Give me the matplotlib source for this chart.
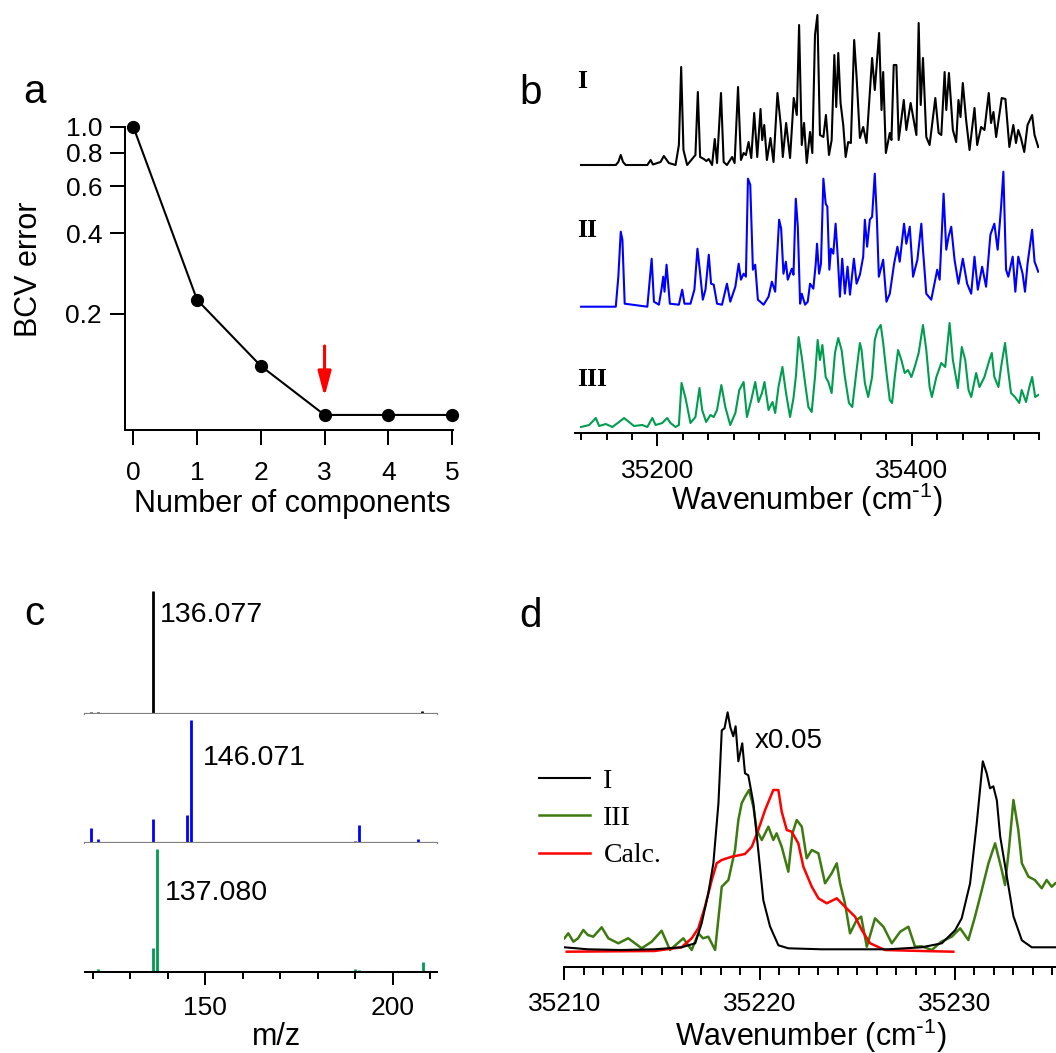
import matplotlib.pyplot as plt
import numpy as np
from matplotlib.ticker import FixedLocator, MultipleLocator, NullLocator

plt.rcParams['font.family'] = ['Liberation Sans', 'DejaVu Sans']
plt.rcParams['mathtext.default'] = 'regular'
plt.rcParams['axes.linewidth'] = 1.45

# ---- panel a : BCV error vs number of components
n_comp = [0, 1, 2, 3, 4, 5]
bcv_err = [1.0, 0.226, 0.128, 0.084, 0.084, 0.084]
chosen_n = 3

# ---- panel b : spectra I, II, III (wavenumber, intensity a.u.)
wn_I = [35140, 35167.3, 35169.3, 35171.2, 35173.0, 35175.1, 35192.1, 35194.7, 35196.5, 35202.5,
        35205.1, 35209.0, 35214.3, 35216.9, 35218.7, 35220.5, 35223.4, 35229.9, 35231.8, 35233.6,
        35236.5, 35238.5, 35240.4, 35243.0, 35245.1, 35246.9, 35250.0, 35252.1, 35254.7, 35258.7,
        35260.7, 35263.4, 35265.7, 35267.8, 35269.6, 35271.7, 35273.8, 35276.1, 35278.5, 35281.1,
        35282.4, 35284.0, 35286.1, 35288.9, 35291.3, 35294.4, 35297.0, 35298.6, 35301.2, 35304.3,
        35307.2, 35309.6, 35311.4, 35313.5, 35315.3, 35317.4, 35320.0, 35321.8, 35323.9, 35325.8,
        35327.8, 35330.5, 35332.5, 35334.9, 35337.0, 35339.1, 35340.6, 35342.2, 35344.0, 35346.1,
        35348.0, 35350.0, 35352.1, 35354.7, 35356.6, 35359.2, 35361.8, 35364.4, 35368.8, 35370.9,
        35374.3, 35376.2, 35377.5, 35379.6, 35382.7, 35384.0, 35385.8, 35387.9, 35389.7, 35393.7,
        35395.7, 35399.1, 35403.6, 35405.4, 35407.0, 35408.8, 35411.4, 35414.0, 35418.5, 35421.1,
        35423.2, 35425.8, 35427.1, 35429.2, 35432.3, 35434.9, 35436.7, 35438.3, 35440.1, 35442.7,
        35445.4, 35449.3, 35451.4, 35454.5, 35457.1, 35460.5, 35462.3, 35464.2, 35466.3, 35470.7,
        35473.6, 35476.7, 35479.8, 35481.9, 35483.7, 35485.8, 35488.4, 35491.0, 35494.6, 35496.5, 35499.4]
int_I = [0, 0, 3, 10, 3, 0, 0, 5, 0.5, 3,
         9, 2, 0, 20, 98, 15, 0, 10, 73, 8,
         6, 4, 6, 0, 26, 2, 72, 3, 0, 8,
         2, 78, 5, 12, 10, 23, 7, 52, 8, 56,
         25, 40, 5, 27, 3, 72, 40, 8, 42, 7,
         67, 50, 140, 20, 42, 2, 33, 12, 130, 150,
         30, 28, 50, 10, 25, 110, 58, 112, 62, 40,
         8, 23, 22, 125, 88, 27, 38, 22, 107, 75,
         132, 55, 93, 12, 32, 25, 100, 100, 25, 65,
         35, 62, 30, 142, 60, 107, 28, 20, 67, 32,
         30, 93, 55, 92, 35, 23, 65, 48, 82, 45,
         15, 57, 20, 38, 35, 72, 42, 53, 28, 67,
         66, 18, 40, 22, 35, 27, 13, 40, 50, 30, 18]

wn_II = [35140, 35167.3, 35169.3, 35171.2, 35172.5, 35174.3, 35192.1, 35193.9, 35195.5, 35197.3,
         35201.2, 35203.3, 35204.6, 35205.6, 35207.2, 35209.8, 35216.9, 35219.5, 35221.3, 35226.0,
         35229.1, 35231.5, 35233.3, 35235.7, 35237.8, 35240.4, 35242.2, 35244.3, 35246.9, 35250.8,
         35254.7, 35257.3, 35261.3, 35263.9, 35265.7, 35267.8, 35269.6, 35271.2, 35273.0, 35275.1,
         35276.9, 35279.0, 35283.5, 35287.4, 35290.0, 35292.6, 35295.7, 35297.3, 35299.1, 35301.0,
         35302.5, 35305.7, 35307.0, 35308.8, 35310.4, 35312.2, 35313.5, 35316.1, 35318.2, 35320.0,
         35322.6, 35324.5, 35325.5, 35327.1, 35328.6, 35330.5, 35332.3, 35333.6, 35335.2, 35336.5,
         35338.3, 35340.1, 35341.7, 35343.5, 35345.3, 35347.4, 35349.5, 35351.4, 35354.5, 35356.6,
         35359.2, 35361.8, 35363.1, 35364.9, 35367.0, 35368.8, 35370.9, 35372.5, 35374.1, 35377.5,
         35380.1, 35382.7, 35386.1, 35388.7, 35390.5, 35393.9, 35395.7, 35398.4, 35401.0, 35404.4,
         35407.5, 35408.8, 35411.4, 35415.3, 35420.0, 35421.9, 35425.0, 35427.1, 35428.9, 35431.0,
         35433.6, 35436.7, 35440.1, 35443.5, 35446.7, 35449.3, 35451.9, 35455.3, 35458.4, 35461.8,
         35464.9, 35467.5, 35470.2, 35472.0, 35474.1, 35475.9, 35479.3, 35481.4, 35483.7, 35487.1,
         35489.0, 35491.0, 35494.6, 35496.5, 35498.0, 35499.4]
int_II = [0, 0, 30, 75, 67, 3, 0, 25, 48, 5,
          2, 18, 30, 15, 42, 3, 2, 17, 3, 3,
          17, 58, 37, 7, 17, 52, 23, 22, 3, 2,
          23, 5, 20, 43, 27, 33, 30, 128, 122, 37,
          42, 7, 2, 10, 25, 15, 87, 78, 33, 45,
          27, 38, 32, 108, 80, 3, 13, 2, 5, 23,
          18, 43, 63, 33, 43, 128, 103, 100, 37, 58,
          53, 83, 52, 10, 48, 13, 40, 12, 48, 23,
          32, 50, 87, 60, 87, 90, 133, 90, 30, 47,
          5, 13, 43, 60, 45, 83, 63, 80, 30, 47,
          83, 57, 13, 7, 37, 27, 113, 57, 70, 80,
          47, 23, 48, 23, 13, 50, 17, 40, 20, 72,
          83, 57, 100, 135, 37, 30, 50, 15, 50, 33,
          15, 43, 77, 45, 40, 35]

wn_III = [35140, 35146.4, 35151.6, 35154.2, 35159.4, 35164.6, 35169.9, 35173.8, 35177.7, 35181.6,
          35188.1, 35192.1, 35196.0, 35198.6, 35203.8, 35207.7, 35210.3, 35214.3, 35216.9, 35219.0,
          35222.1, 35226.0, 35229.9, 35233.1, 35235.2, 35238.3, 35241.7, 35244.3, 35246.9, 35250.3,
          35253.4, 35257.3, 35261.3, 35264.4, 35267.8, 35270.4, 35273.8, 35276.9, 35279.5, 35282.2,
          35284.2, 35287.4, 35290.5, 35292.6, 35295.2, 35298.3, 35301.0, 35304.3, 35307.0, 35309.0,
          35311.0, 35313.5, 35316.1, 35318.7, 35321.3, 35323.9, 35326.0, 35327.8, 35329.7, 35332.3,
          35334.4, 35337.0, 35339.6, 35342.2, 35344.8, 35347.4, 35350.6, 35353.2, 35356.6, 35359.2,
          35360.5, 35363.1, 35365.7, 35368.8, 35370.9, 35373.0, 35375.6, 35377.5, 35380.1, 35382.7,
          35384.5, 35386.6, 35389.2, 35391.8, 35394.4, 35397.0, 35399.7, 35402.3, 35405.4, 35408.8,
          35411.4, 35414.0, 35415.8, 35419.3, 35423.2, 35426.3, 35429.7, 35432.3, 35436.2, 35439.3,
          35442.0, 35444.6, 35446.7, 35450.6, 35453.2, 35457.1, 35461.0, 35462.9, 35464.9, 35468.1,
          35470.2, 35473.3, 35475.4, 35478.0, 35481.1, 35484.5, 35486.4, 35489.8, 35492.4, 35494.6,
          35497.0, 35499.4]
int_III = [0, 2, 9, 1, 3, 0, 5, 9, 5, 1,
           2, 0, 9, 2, 4, 9, 4, 0, 2, 44,
           29, 4, 10, 39, 17, 5, 12, 10, 17, 42,
           20, 2, 14, 37, 45, 10, 27, 45, 25, 34,
           45, 17, 25, 14, 40, 60, 35, 10, 29, 52,
           90, 70, 44, 20, 15, 50, 87, 67, 82, 50,
           45, 34, 74, 89, 77, 50, 24, 20, 57, 84,
           77, 44, 30, 50, 87, 97, 102, 84, 54, 27,
           24, 50, 77, 67, 54, 57, 50, 60, 74, 102,
           77, 40, 30, 50, 64, 60, 104, 67, 39, 80,
           67, 37, 30, 54, 40, 50, 67, 74, 50, 40,
           60, 84, 60, 34, 30, 24, 37, 25, 40, 50,
           30, 32]

# ---- panel c : mass spectra (m/z, relative intensity %)
mz_I = [119.5, 121.5, 136.077, 145.3, 190.0, 207.4, 207.8]
rel_I = [1.6, 1.6, 100, 0.8, 0.8, 1.2, 2.4]
mz_II = [119.5, 121.5, 136.08, 136.9, 145.07, 146.071, 190.0, 191.1, 206.8, 207.5]
rel_II = [11.7, 3.0, 19.0, 0.8, 22.6, 100, 1.6, 14.4, 2.7, 0.8]
mz_III = [119.5, 121.5, 136.08, 137.080, 145.3, 190.0, 191.1, 207.5, 208.0]
rel_III = [0.5, 1.9, 19.0, 100, 0.5, 2.0, 1.6, 0.8, 7.6]

# ---- panel d : zoom on first band (wavenumber, intensity a.u.)
wn_d_I = [35210, 35211.2, 35212.9, 35214.6, 35216.0, 35216.7, 35217.03, 35217.37, 35217.63, 35217.89,
          35218.06, 35218.2, 35218.36, 35218.5, 35218.65, 35218.77, 35218.91, 35219.11, 35219.25, 35219.42,
          35219.68, 35219.93, 35220.19, 35220.53, 35220.96, 35221.47, 35223.18, 35226.59, 35228.3, 35229.33,
          35230.01, 35230.35, 35230.78, 35231.12, 35231.43, 35231.63, 35231.8, 35231.97, 35232.15, 35232.32,
          35232.66, 35233.0, 35233.43, 35233.94, 35235.15]
int_d_I = [20, 18, 17.3, 18, 20, 24, 44, 74, 104, 164,
           237, 239, 255, 240, 231, 241, 206, 224, 194, 192,
           164, 117, 67, 41, 22, 19, 18, 18, 20, 24,
           37, 49, 84, 144, 206, 194, 179, 181, 167, 131,
           91, 51, 27, 20, 20]

wn_d_III = [35210, 35210.2, 35210.46, 35210.7, 35210.97, 35211.2, 35211.48, 35211.91, 35212.25, 35212.76,
            35213.27, 35213.96, 35214.47, 35214.98, 35215.41, 35216.09, 35216.52, 35216.86, 35217.1, 35217.37,
            35217.72, 35218.06, 35218.4, 35218.74, 35218.91, 35219.08, 35219.25, 35219.46, 35219.68, 35219.85,
            35220.11, 35220.45, 35220.7, 35220.87, 35221.13, 35221.47, 35221.68, 35221.9, 35222.16, 35222.41,
            35222.67, 35223.01, 35223.35, 35223.69, 35223.95, 35224.12, 35224.37, 35224.63, 35224.97, 35225.2,
            35225.49, 35225.91, 35226.34, 35226.77, 35227.2, 35227.62, 35227.96, 35228.3, 35228.82, 35229.3,
            35229.84, 35230.27, 35230.69, 35231.03, 35231.38, 35231.72, 35232.06, 35232.4, 35232.57, 35232.78,
            35233.0, 35233.25, 35233.43, 35233.77, 35234.1, 35234.45, 35234.7, 35234.96, 35235.15]
int_d_III = [29, 34, 25.6, 29, 37.3, 32.3, 30.6, 40, 29, 24,
             29, 19, 25.6, 36.6, 17.3, 29, 17.3, 34, 29, 30.6,
             17.3, 80.6, 87.3, 117.3, 147.3, 164, 170.6, 177.3, 160.6, 137.3,
             127.3, 140.6, 127.3, 134, 120.6, 95.6, 134, 147.3, 140.6, 109,
             117.3, 114, 84, 94, 104, 84, 64, 34, 47.3, 50.6,
             20.6, 49, 40.6, 24, 35.6, 40.6, 20.6, 21, 17.3, 25.6,
             30.6, 39, 27.3, 50.6, 77.3, 104, 124, 97.3, 82.3, 120.6,
             167.3, 137.3, 104, 90.6, 87.3, 79, 87.3, 80.6, 84]

wn_d_calc = [35210.12, 35214.6, 35216.0, 35216.52, 35216.86, 35217.2, 35217.55, 35217.8, 35218.06, 35218.57,
             35219.25, 35219.6, 35219.93, 35220.28, 35220.7, 35220.96, 35221.13, 35221.39, 35221.64, 35221.98,
             35222.24, 35222.67, 35223.01, 35223.44, 35223.95, 35224.37, 35224.89, 35225.23, 35225.66, 35226.42,
             35228.3, 35229.92]
int_d_calc = [15.6, 16.3, 20, 29, 39, 60.6, 87.3, 104, 107.3, 110.6,
              113.3, 120.6, 137.3, 157.3, 177.3, 177.3, 155.6, 137.3, 135.6, 124,
              100.6, 80.6, 69, 64, 69, 60.6, 50.6, 37.3, 24, 17.3,
              16.3, 15.6]

W, H = 1056, 1053
fig = plt.figure(figsize=(W / 100, H / 100), dpi=100)


def px_axes(left, top, right, bottom):
    return fig.add_axes([left / W, 1 - bottom / H, (right - left) / W, (bottom - top) / H])


TICK = 19
LABEL = 22
WN_LABEL = 'Wavenumber (cm$^{\\text{-}1}$)'

# ================= a
ax = px_axes(125, 126.7, 452.7, 430)
ax.plot(n_comp, bcv_err, color='k', lw=1.5, marker='o', ms=8.5, clip_on=False, zorder=3)
ax.set_yscale('log')
ax.set_ylim(0.0738, 1.0)
ax.set_xlim(-0.13, 5.01)
for s in ['top', 'right']:
    ax.spines[s].set_visible(False)
ax.yaxis.set_major_locator(FixedLocator([0.2, 0.4, 0.6, 0.8, 1.0]))
ax.yaxis.set_minor_locator(NullLocator())
ax.set_yticklabels(['0.2', '0.4', '0.6', '0.8', '1.0'])
ax.set_xticks(n_comp)
ax.tick_params(axis='both', direction='out', length=10.5, width=1.45, labelsize=TICK)
ax.tick_params(axis='y', pad=6)
ax.tick_params(axis='x', pad=12)
ax.annotate('', xy=(chosen_n, 0.0983), xytext=(chosen_n, 0.152),
            arrowprops=dict(arrowstyle='-|>,head_length=0.75,head_width=0.2', color='red',
                            lw=2.2, mutation_scale=20, shrinkA=0, shrinkB=0))
ax.set_xlabel('Number of components', fontsize=LABEL, va='baseline')
ax.xaxis.set_label_coords(0.511, -0.269)
ax.set_ylabel('BCV error', fontsize=LABEL, va='baseline')
ax.yaxis.set_label_coords(-0.2695, 0.531)

# ================= b
axb = px_axes(574.7, 10, 1039, 432.7)
green_b = '#009c50'
axb.plot(wn_I, 267.7 + np.array(int_I), color='k', lw=1.5)
axb.plot(wn_II, 126 + np.array(int_II), color='#0000ff', lw=1.5)
axb.plot(wn_III, 5.7 + np.array(int_III), color=green_b, lw=1.5)
axb.set_xlim(35135, 35500)
axb.set_ylim(0, 422.7)
for s in ['top', 'right', 'left']:
    axb.spines[s].set_visible(False)
axb.set_yticks([])
axb.xaxis.set_major_locator(FixedLocator([35200, 35400]))
axb.xaxis.set_minor_locator(MultipleLocator(20))
axb.tick_params(axis='x', which='major', direction='out', length=9.7, width=1.45, labelsize=TICK, pad=9.5)
axb.tick_params(axis='x', which='minor', direction='out', length=5, width=1.45)
axb.set_xlabel(WN_LABEL, fontsize=LABEL, va='baseline')
axb.xaxis.set_label_coords(0.5, -0.184)
for lab, yy in [('I', 351.7), ('II', 202), ('III', 53)]:
    axb.text(35137, yy, lab, family='Liberation Serif', weight='bold', fontsize=18.5,
             ha='left', va='center')

# ================= c
c_rows = [(585.3, 714), (714, 842.7), (842.7, 971.7)]
c_data = [(mz_I, rel_I, 'k', '136.077', 137.8, 75.3),
          (mz_II, rel_II, '#0000ff', '146.071', 149.3, 63.4),
          (mz_III, rel_III, green_b, '137.080', 139.1, 58.5)]
for i, ((top, bot), (mz, rel, col, lab, lx, ly)) in enumerate(zip(c_rows, c_data)):
    axc = px_axes(85, top, 436.7, bot)
    axc.vlines(mz, 0, rel, color=col, lw=2.0)
    axc.set_xlim(117.9, 211.7)
    axc.set_ylim(0, 105)
    for s in ['top', 'right', 'left']:
        axc.spines[s].set_visible(False)
    axc.set_yticks([])
    axc.text(lx, ly, lab, fontsize=20.5, ha='left', va='baseline')
    if i < 2:
        axc.spines['bottom'].set_color('#808080')
        axc.spines['bottom'].set_linewidth(1.6)
        axc.set_xticks([])
    else:
        axc.xaxis.set_major_locator(FixedLocator([150, 200]))
        axc.xaxis.set_minor_locator(MultipleLocator(10))
        axc.tick_params(axis='x', which='major', direction='out', length=9.6, width=1.45,
                        labelsize=TICK, pad=8)
        axc.tick_params(axis='x', which='minor', direction='out', length=4.8, width=1.45)
        axc.set_xlabel('m/z', fontsize=LABEL, va='baseline')
        axc.xaxis.set_label_coords(0.545, -0.57)

# ================= d
axd = px_axes(564.4, 690, 1056, 967.3)
l3, = axd.plot(wn_d_III, int_d_III, color='#3d7a10', lw=1.8)
lc, = axd.plot(wn_d_calc, int_d_calc, color='#ff0000', lw=1.8)
l1, = axd.plot(wn_d_I, int_d_I, color='k', lw=1.5)
axd.set_xlim(35210, 35235.18)
axd.set_ylim(0, 277.3)
for s in ['top', 'right', 'left']:
    axd.spines[s].set_visible(False)
axd.set_yticks([])
axd.xaxis.set_major_locator(FixedLocator([35210, 35220, 35230]))
axd.xaxis.set_minor_locator(MultipleLocator(1))
axd.tick_params(axis='x', which='major', direction='out', length=9.2, width=1.45, labelsize=TICK, pad=8.5)
axd.tick_params(axis='x', which='minor', direction='out', length=5.5, width=1.45)
axd.set_xlabel(WN_LABEL, fontsize=LABEL, va='baseline')
axd.xaxis.set_label_coords(0.502, -0.284)
axd.text(35219.76, 219, 'x0.05', fontsize=20, ha='left', va='baseline')
axd.legend([l1, l3, lc], ['I', 'III', 'Calc.'], loc='center left', bbox_to_anchor=(-0.0517, 0.537),
           frameon=False, prop={'family': 'Liberation Serif', 'size': 20}, handlelength=1.84,
           handletextpad=0.48, labelspacing=0.42, borderpad=0, borderaxespad=0)

# panel letters
for letter, x, y in [('a', 23.5, 103.3), ('b', 519, 104.3), ('c', 24, 625), ('d', 519, 626.7)]:
    fig.text(x / W, 1 - y / H, letter, fontsize=29, ha='left', va='baseline')

fig.savefig('out.png', dpi=100)
